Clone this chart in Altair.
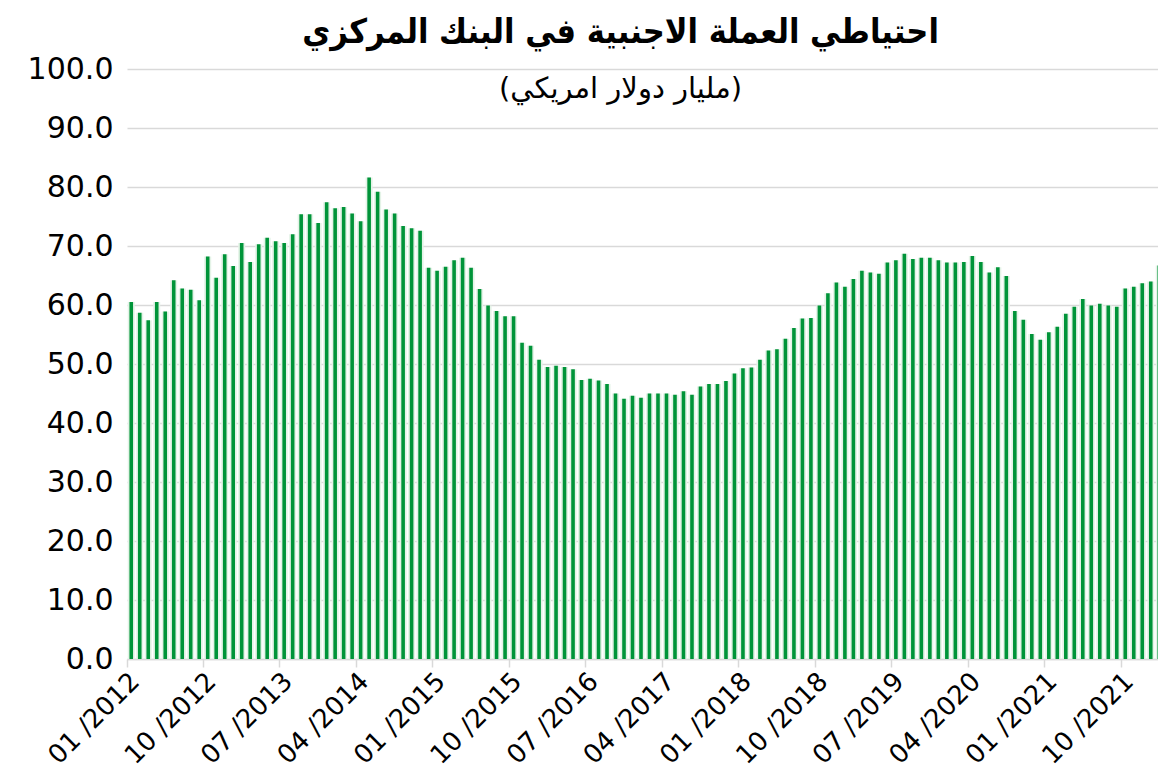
import altair as alt
import pandas as pd

# Monthly reserves (billion USD), 01/2012 .. 03/2022
v2012 = [60.5, 58.7, 57.4, 60.5, 58.9, 64.2, 62.8, 62.6, 60.8, 68.2, 64.6, 68.6]
v2013 = [66.6, 70.5, 67.3, 70.3, 71.4, 70.8, 70.5, 72.0, 75.4, 75.4, 73.9, 77.4]
v2014 = [76.4, 76.6, 75.5, 74.2, 81.6, 79.2, 76.2, 75.5, 73.4, 73.0, 72.6, 66.3]
v2015 = [65.8, 66.5, 67.6, 68.0, 66.3, 62.7, 59.9, 59.0, 58.1, 58.1, 53.6, 53.1]
v2016 = [50.7, 49.5, 49.7, 49.5, 49.1, 47.3, 47.5, 47.2, 46.6, 45.0, 44.1, 44.6]
v2017 = [44.3, 45.0, 45.0, 45.0, 44.8, 45.4, 44.8, 46.2, 46.6, 46.6, 47.1, 48.4]
v2018 = [49.3, 49.4, 50.7, 52.3, 52.5, 54.3, 56.1, 57.7, 57.8, 59.9, 62.0, 63.8]
v2019 = [63.1, 64.4, 65.8, 65.5, 65.3, 67.2, 67.6, 68.7, 67.8, 68.0, 68.0, 67.6]
v2020 = [67.2, 67.2, 67.3, 68.3, 67.3, 65.5, 66.4, 64.9, 59.0, 57.5, 55.1, 54.1]
v2021 = [55.4, 56.3, 58.5, 59.7, 61.0, 59.9, 60.2, 59.9, 59.7, 62.8, 63.1, 63.7]
v2022 = [64.0, 66.7, 67.1]

years = [2012, 2013, 2014, 2015, 2016, 2017, 2018, 2019, 2020, 2021, 2022]
series = [v2012, v2013, v2014, v2015, v2016, v2017, v2018, v2019, v2020, v2021, v2022]

months = []
values = []
for y, vals in zip(years, series):
    for i, v in enumerate(vals):
        months.append(f"{i + 1:02d} /{y}")
        values.append(v)

tick_labels = ["01 /2012", "10 /2012", "07 /2013", "04 /2014", "01 /2015", "10 /2015",
               "07 /2016", "04 /2017", "01 /2018", "10 /2018", "07 /2019", "04 /2020",
               "01 /2021", "10 /2021"]
y_ticks = [0, 10, 20, 30, 40, 50, 60, 70, 80, 90, 100]

title_text = "احتياطي العملة الاجنبية في البنك المركزي"
subtitle_text = "(مليار دولار امريكي)"

df = pd.DataFrame({"month": months, "value": values})

x_enc = alt.X(
    "month:N",
    sort=months,
    scale=alt.Scale(paddingInner=0, paddingOuter=0, range=[0, 1045]),
    axis=alt.Axis(
        values=tick_labels,
        title=None,
        labelAngle=-45,
        labelAlign="right",
        labelBaseline="middle",
        labelFont="DejaVu Sans",
        labelFontSize=26,
        labelColor="#000000",
        labelPadding=10,
        labelOffset=4,
        tickSize=8,
        tickColor="#d9d9d9",
        tickWidth=1.5,
        domainColor="#d9d9d9",
        domainWidth=1.5,
        bandPosition=0,
        grid=False,
    ),
)
y_enc = alt.Y(
    "value:Q",
    scale=alt.Scale(domain=[0, 100], nice=False),
    axis=alt.Axis(
        values=y_ticks,
        format=".1f",
        title=None,
        labelFont="DejaVu Sans",
        labelFontSize=30,
        labelColor="#000000",
        labelPadding=14,
        ticks=False,
        domain=False,
        gridColor="#d9d9d9",
        gridWidth=1.5,
    ),
)

halo = alt.Chart(df).mark_bar(size=7, color="#e4f3e7").encode(x=x_enc, y=y_enc)
bars = alt.Chart(df).mark_bar(size=3.6, color="#009439").encode(x=x_enc, y=y_enc)

chart = (
    alt.layer(halo, bars)
    .properties(
        width=1031,
        height=590,
        padding={"left": 119, "top": 61, "right": 0, "bottom": 114},
        autosize=alt.AutoSizeParams(type="none"),
        background="#ffffff",
        title=alt.Title(
            title_text,
            subtitle=subtitle_text,
            anchor="middle",
            font="DejaVu Sans Condensed, DejaVu Sans",
            fontSize=34,
            fontWeight="bold",
            color="#000000",
            subtitleFont="DejaVu Sans",
            subtitleFontSize=29,
            subtitleColor="#000000",
            subtitlePadding=25,
            offset=-50,
            dx=-22,
        ),
    )
    .configure_view(stroke=None)
)

chart.save("out.html", embed_options={"renderer": "svg", "actions": False})
